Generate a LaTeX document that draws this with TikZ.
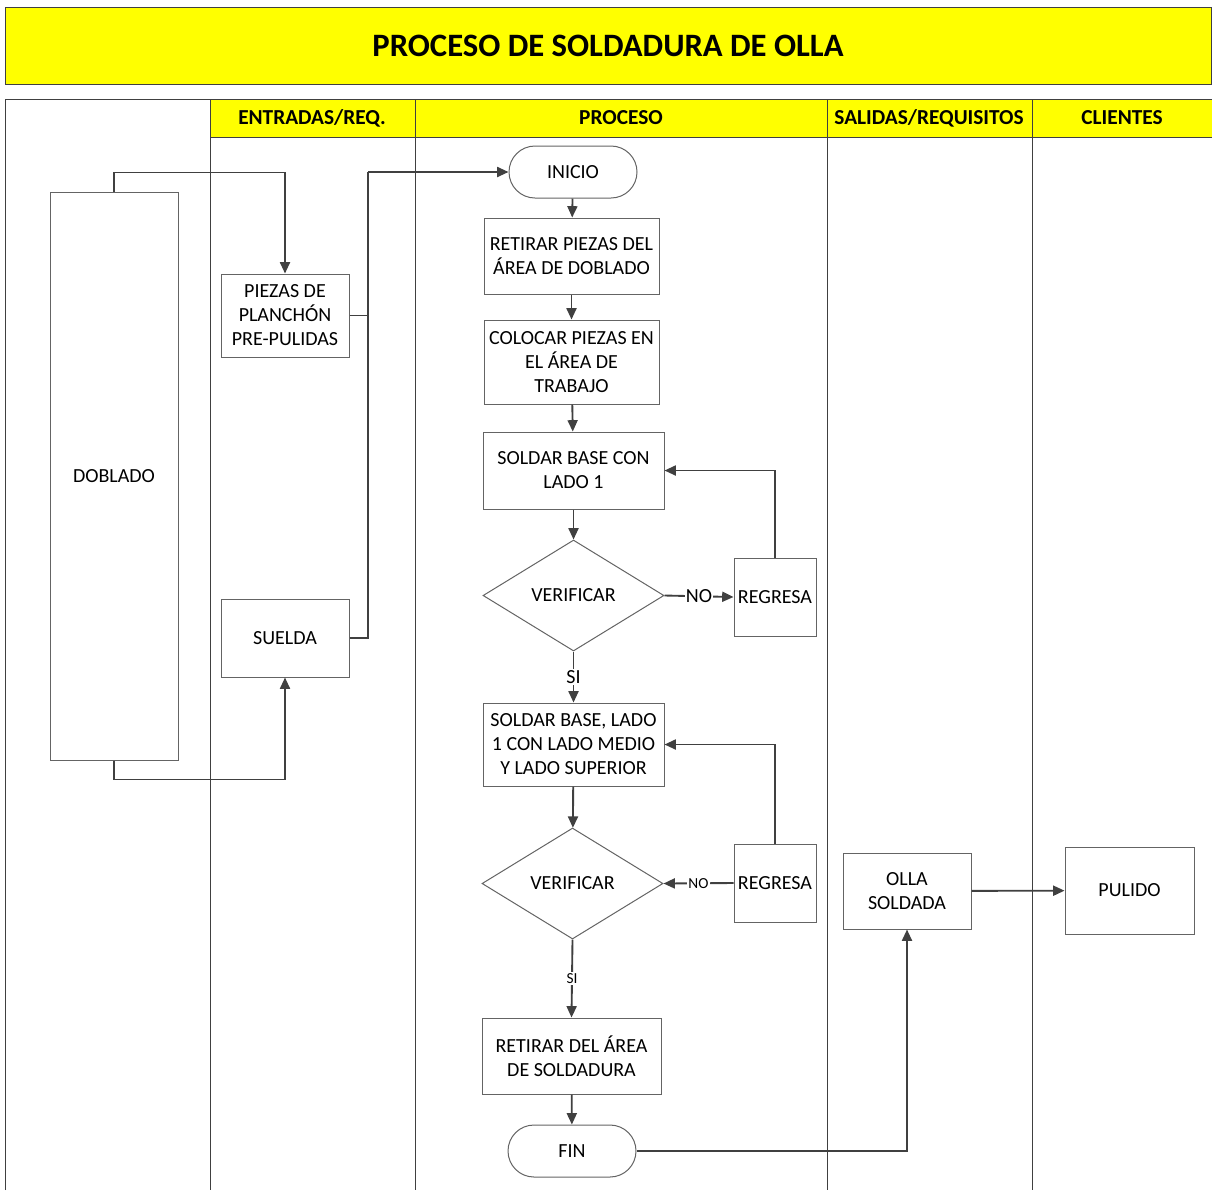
\documentclass[tikz,border=0pt]{standalone}
\usepackage{fontspec}
\setmainfont{Carlito}
\usetikzlibrary{arrows.meta,positioning,shapes.geometric,shapes.misc}
\definecolor{titleyellow}{RGB}{255,255,0}
\definecolor{linegray}{RGB}{64,64,64}
\definecolor{boxgray}{RGB}{100,100,100}
\newcommand\pxu{*0.75pt}

\begin{document}
\begin{tikzpicture}[x=0.75pt,y=-0.75pt,>={Triangle[length=8.5pt,width=7.5pt]},
  box/.style={draw=boxgray,line width=0.75pt,fill=white,align=center,inner sep=0pt,font=\fontsize{15}{18}\selectfont},
  term/.style={box,rounded rectangle},
  check/.style={box,diamond,aspect=1.63},
  head/.style={font=\bfseries\fontsize{16}{19}\selectfont},
  lane/.style={draw=linegray,line width=0.75pt},
  link/.style={draw=linegray,line width=1.4pt},
  tag/.style={fill=white,inner sep=1pt,font=\fontsize{15}{18}\selectfont},
  smalltag/.style={fill=white,inner sep=1pt,font=\fontsize{11.5}{13}\selectfont}]
\useasboundingbox (0,0) rectangle (1212,1190);
% title and lanes
\node[draw=linegray,line width=0.75pt,fill=titleyellow,minimum width=1206\pxu,minimum height=77\pxu,font=\bfseries\fontsize{24.5}{29}\selectfont] (title) at (608,45.5) {PROCESO DE SOLDADURA DE OLLA};
\fill[titleyellow] (210,99) rectangle (1212,137);
\draw[lane] (5,1190) -- (5,99) -- (1212,99);
\draw[lane] (210,137) -- (1212,137);
\foreach \lx in {210,415,827,1032}
  \draw[lane] (\lx,99) -- (\lx,1190);
\node[head] (hin) at (312,118) {ENTRADAS/REQ.};
\node[head] (hpro) at (621,118) {PROCESO};
\node[head] (hout) at (929,118) {SALIDAS/REQUISITOS};
\node[head] (hcli) at (1122,118) {CLIENTES};
% nodes
\node[box,minimum width=128\pxu,minimum height=568\pxu] (dob) at (114,476) {DOBLADO};
\node[box,minimum width=128\pxu,minimum height=83\pxu] (piezas) at (285,315.5) {PIEZAS DE\\PLANCHÓN\\PRE-PULIDAS};
\node[box,minimum width=128\pxu,minimum height=78\pxu] (suelda) at (285,638) {SUELDA};
\node[term,minimum width=128\pxu,minimum height=52\pxu] (inicio) at (573,172) {INICIO};
\node[box,minimum width=175\pxu,minimum height=76\pxu] (ret1) at (571.5,256) {RETIRAR PIEZAS DEL\\ÁREA DE DOBLADO};
\node[box,minimum width=175\pxu,minimum height=84\pxu] (coloc) at (571.5,362) {COLOCAR PIEZAS EN\\EL ÁREA DE\\TRABAJO};
\node[box,minimum width=181\pxu,minimum height=77\pxu] (sold1) at (573.5,470.5) {SOLDAR BASE CON\\LADO 1};
\node[check,minimum width=181\pxu,minimum height=111\pxu] (ver1) at (573.5,595.5) {VERIFICAR};
\node[box,minimum width=82\pxu,minimum height=78\pxu] (reg1) at (775,597) {REGRESA};
\node[box,minimum width=181\pxu,minimum height=83\pxu] (sold2) at (573.5,744.5) {SOLDAR BASE, LADO\\1 CON LADO MEDIO\\Y LADO SUPERIOR};
\node[check,minimum width=181\pxu,minimum height=111\pxu] (ver2) at (572.5,883.5) {VERIFICAR};
\node[box,minimum width=82\pxu,minimum height=78\pxu] (reg2) at (775,883) {REGRESA};
\node[box,minimum width=179\pxu,minimum height=76\pxu] (ret2) at (571.5,1056) {RETIRAR DEL ÁREA\\DE SOLDADURA};
\node[term,minimum width=128\pxu,minimum height=52\pxu] (fin) at (572,1151) {FIN};
\node[box,minimum width=128\pxu,minimum height=76\pxu] (olla) at (907,891) {OLLA\\SOLDADA};
\node[box,minimum width=129\pxu,minimum height=87\pxu] (pulido) at (1129.5,890.5) {PULIDO};
\coordinate (jn) at (368,172);
% connectors
\draw[link,->] (dob.north) -- ++(0,-19) -| (piezas.north);
\draw[link,->] (dob.south) -- ++(0,19) -| (suelda.south);
\draw[link] (piezas.east) -| (jn);
\draw[link] (suelda.east) -| (jn);
\draw[link,->] (jn) -- (inicio.west);
\draw[link,->] (inicio) -- (ret1);
\draw[link,->] (ret1) -- (coloc);
\draw[link,->] (coloc) -- (sold1);
\draw[link,->] (sold1) -- (ver1);
\draw[link,->] (ver1.east) -- node[tag] {NO} (reg1.west);
\draw[link,->] (reg1.north) |- (sold1.east);
\draw[link,->] (ver1.south) -- node[tag] {SI} (sold2.north);
\draw[link,->] (sold2) -- (ver2);
\draw[link,->] (reg2.west) -- node[smalltag] {NO} (ver2.east);
\draw[link,->] (reg2.north) |- (sold2.east);
\draw[link,->] (ver2.south) -- node[smalltag] {SI} (ret2.north);
\draw[link,->] (ret2) -- (fin);
\draw[link,->] (fin.east) -| (olla.south);
\draw[link,->] (olla) -- (pulido);
\end{tikzpicture}
\end{document}
